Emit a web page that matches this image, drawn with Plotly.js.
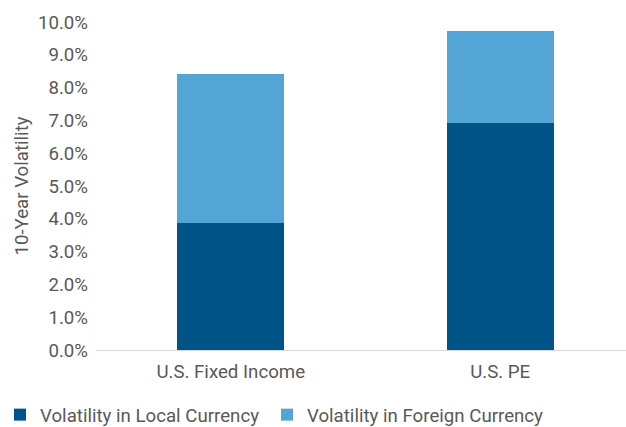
<!DOCTYPE html>
<html><head><meta charset="utf-8">
<script src="https://cdn.plot.ly/plotly-3.0.1.min.js"></script>
<style>html,body{margin:0;padding:0;background:#fff;overflow:hidden}body{width:626px;height:427px}#c{width:626px;height:434px}</style>
</head><body><div id="c"></div>
<script>
var categories = ["U.S. Fixed Income", "U.S. PE"];
var localVol = [0.0388, 0.0693];
var foreignVol = [0.0454, 0.0280];
var seriesNames = ["Volatility in Local Currency", "Volatility in Foreign Currency"];
var tickVals = [0,0.01,0.02,0.03,0.04,0.05,0.06,0.07,0.08,0.09,0.10];

var FS = 18.67;
var data = [
  {type:"bar", x:categories, y:localVol, name:seriesNames[0], marker:{color:"#015488"}, legend:"legend"},
  {type:"bar", x:categories, y:foreignVol, name:seriesNames[1], marker:{color:"#52a5d4"}, legend:"legend2"}
];
var legendFont = {size:FS, color:"#595959"};
var layout = {
  width:626, height:434, barmode:"stack", bargap:0.603,
  margin:{l:96, r:0, t:22, b:83.5},
  paper_bgcolor:"#fff", plot_bgcolor:"#fff",
  font:{family:"Roboto, sans-serif", color:"#595959", size:FS},
  xaxis:{range:[-0.5, 1.467], automargin:false, showline:true, linecolor:"#d9d9d9", linewidth:1, ticks:"", ticklabelstandoff:5, tickfont:{size:FS, color:"#595959"}},
  yaxis:{range:[0,0.10], automargin:true, tickvals:tickVals, tickformat:".1%", showgrid:false, zeroline:false, showline:false,
         ticks:"", ticklen:0, ticklabelstandoff:7, tickfont:{size:FS, color:"#595959"},
         title:{text:"10-Year Volatility", font:{size:FS, color:"#595959"}, standoff:4}},
  legend:{orientation:"h", x:-0.1868, xanchor:"left", yref:"container", y:0, yanchor:"bottom", font:legendFont},
  legend2:{orientation:"h", x:0.3226, xanchor:"left", yref:"container", y:0, yanchor:"bottom", font:legendFont},
  showlegend:true
};
Plotly.newPlot("c", data, layout, {displayModeBar:false, staticPlot:true});
</script></body></html>
